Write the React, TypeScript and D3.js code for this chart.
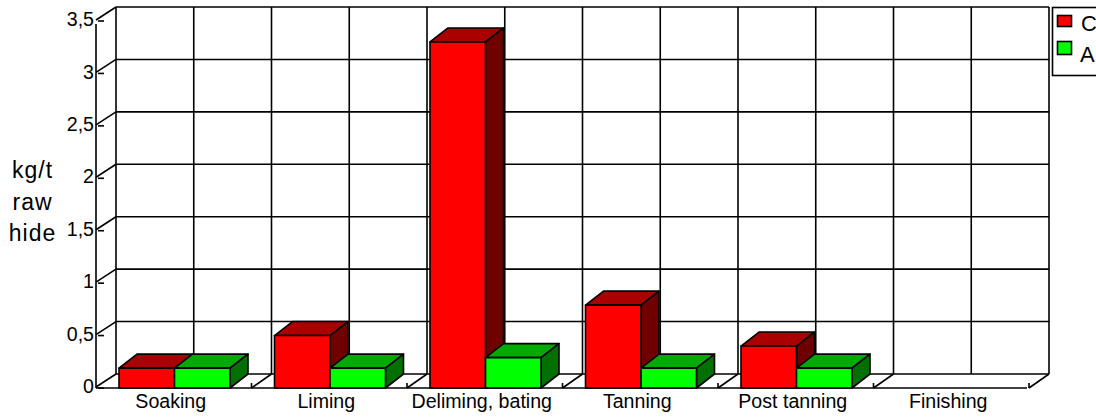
import React from "react";
import * as d3 from "d3";

const categories = ["Soaking", "Liming", "Deliming, bating", "Tanning", "Post tanning", "Finishing"];
const seriesC = [0.19, 0.5, 3.3, 0.79, 0.4, 0];
const seriesA = [0.19, 0.19, 0.29, 0.19, 0.19, 0];
const yTicks = [0, 0.5, 1, 1.5, 2, 2.5, 3, 3.5];
const yTickLabels = ["0", "0,5", "1", "1,5", "2", "2,5", "3", "3,5"];
const legendNames = ["C", "A"];
const titleLines = ["kg/t", "raw", "hide"];

const FONT = "'Liberation Sans', Arial, sans-serif";
const DX = 20;
const DY = -14;
const BAR_DX = 18;
const SW = 1.6;

const x = d3.scaleBand<string>().domain(categories).range([96, 1029]);
const y = d3.scaleLinear().domain([0, 3.5]).range([388, 21]);
const inner = d3.scaleBand<string>().domain(legendNames).range([0, 111]);
const halfSteps = d3.range(0, 13);
const xBack = d3.scaleLinear().domain([0, 12]).range([116, 1049]);
const line = d3.line();

const colours: Record<string, { front: string; top: string; side: string }> = {
  C: { front: "#ff0000", top: "#aa0000", side: "#700000" },
  A: { front: "#00ff00", top: "#00aa00", side: "#007000" },
};

function Bar({ cat, name, value }: { cat: string; name: string; value: number }) {
  if (value <= 0) return null;
  const x0 = (x(cat) as number) + 23 + (inner(name) as number);
  const w = inner.bandwidth();
  const x1 = x0 + w;
  const y0 = y(0);
  const yT = y(value);
  const c = colours[name];
  const poly = (pts: [number, number][]) => line(pts) + "Z";
  return (
    <g stroke="#000" strokeWidth={SW} strokeLinejoin="round">
      <path d={poly([[x0, yT], [x1, yT], [x1 + BAR_DX, yT + DY], [x0 + BAR_DX, yT + DY]])} fill={c.top} />
      <path d={poly([[x1, yT], [x1 + BAR_DX, yT + DY], [x1 + BAR_DX, y0 + DY], [x1, y0]])} fill={c.side} />
      <rect x={x0} y={yT} width={w} height={y0 - yT} fill={c.front} />
    </g>
  );
}

export default function App() {
  return (
    <svg width={1096} height={420} style={{ position: "absolute", left: 0, top: 0, background: "#fff" }} fontFamily={FONT}>
      <g stroke="#000" strokeWidth={SW} fill="none">
        {yTicks.map((t) => (
          <g key={t}>
            <line x1={116} x2={1049} y1={y(t) + DY} y2={y(t) + DY} />
            <line x1={96} x2={116} y1={y(t) - 1} y2={y(t) + DY} />
            <line x1={98} x2={104} y1={y(t)} y2={y(t)} />
          </g>
        ))}
        {halfSteps.map((i) => (
          <line key={i} x1={xBack(i)} x2={xBack(i)} y1={y(3.5) + DY} y2={y(0) + DY} />
        ))}
        <line x1={96} x2={96} y1={y(3.5) + 3} y2={y(0)} />
        <line x1={96} x2={1027} y1={y(0)} y2={y(0)} />
        {categories.map((c) => {
          const xe = (x(c) as number) + x.bandwidth();
          return (
            <g key={c}>
              <line x1={xe} x2={xe + DX} y1={y(0)} y2={y(0) + DY} />
              <line x1={xe} x2={xe} y1={y(0)} y2={y(0) - 5} />
            </g>
          );
        })}
      </g>
      {categories.map((c, i) => (
        <g key={c}>
          <Bar cat={c} name="C" value={seriesC[i]} />
          <Bar cat={c} name="A" value={seriesA[i]} />
        </g>
      ))}
      <g fontSize={19.6} fill="#000">
        {yTicks.map((t, i) => (
          <text key={t} x={94} y={y(t)} textAnchor="end" dominantBaseline="middle">
            {yTickLabels[i]}
          </text>
        ))}
        {categories.map((c) => (
          <text key={c} x={(x(c) as number) + x.bandwidth() / 2 - 3} y={408} textAnchor="middle">
            {c}
          </text>
        ))}
      </g>
      <g fontSize={23} fill="#000" textAnchor="middle" style={{ letterSpacing: 1 }}>
        {titleLines.map((l, i) => (
          <text key={l} x={32.5} y={178 + i * 31.5}>
            {l}
          </text>
        ))}
      </g>
      <rect x={1052.5} y={7.5} width={60} height={68} fill="#fff" stroke="#000" strokeWidth={SW} />
      {legendNames.map((n, i) => (
        <g key={n}>
          <rect x={1057.5} y={15.5 + i * 26} width={14} height={i === 0 ? 11 : 13} fill={colours[n].front} stroke="#000" strokeWidth={SW} />
          <text x={i === 0 ? 1081 : 1080} y={31 + i * 31} fontSize={22} fill="#000">
            {n}
          </text>
        </g>
      ))}
    </svg>
  );
}
